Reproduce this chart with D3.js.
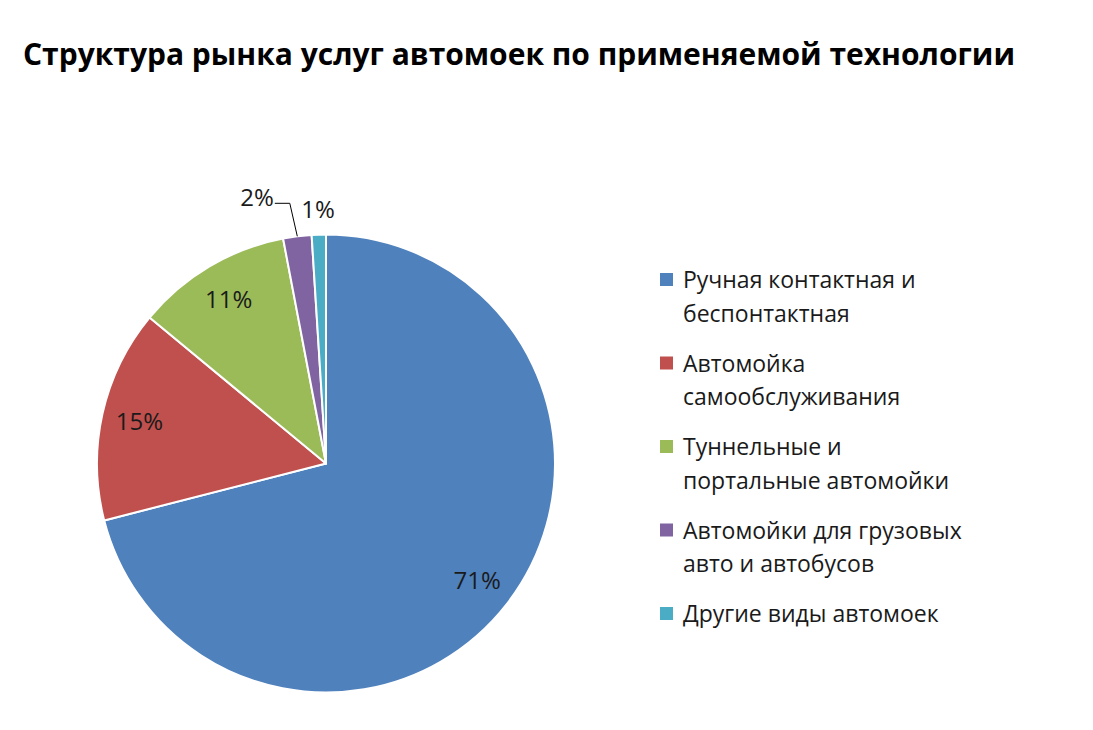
<!DOCTYPE html>
<html>
<head>
<meta charset="utf-8">
<script src="https://cdn.jsdelivr.net/npm/d3@7"></script>
<style>
  html, body { margin: 0; padding: 0; background: #ffffff; }
  svg { display: block; }
</style>
</head>
<body>
<svg id="chart" width="1093" height="730"></svg>
<script>
// ---- data ----
const title = "Структура рынка услуг автомоек по применяемой технологии";
const categories = [
  ["Ручная контактная и", "беспонтактная"],
  ["Автомойка", "самообслуживания"],
  ["Туннельные и", "портальные автомойки"],
  ["Автомойки для грузовых", "авто и автобусов"],
  ["Другие виды автомоек"]
];
const values = [71, 15, 11, 2, 1];
const valueLabels = ["71%", "15%", "11%", "2%", "1%"];
const colors = ["#4F81BD", "#C0504D", "#9BBB59", "#8064A2", "#4BACC6"];

// ---- layout ----
const svg = d3.select("#chart");
const cx = 326, cy = 463.5, R = 229;
const font = "'Open Sans', 'DejaVu Sans', sans-serif";

svg.append("text")
  .attr("x", 23).attr("y", 65)
  .attr("font-family", font)
  .attr("font-weight", 700)
  .attr("font-size", 31)
  .attr("textLength", 992)
  .attr("lengthAdjust", "spacingAndGlyphs")
  .attr("fill", "#000")
  .text(title);

const pie = d3.pie().sort(null).value(d => d);
const arcs = pie(values);
const arc = d3.arc().innerRadius(0).outerRadius(R);
const labelArc = d3.arc().innerRadius(R * 0.835).outerRadius(R * 0.835);

const g = svg.append("g").attr("transform", `translate(${cx},${cy})`);

g.selectAll("path.slice")
  .data(arcs)
  .enter().append("path")
  .attr("class", "slice")
  .attr("d", arc)
  .attr("fill", (d, i) => colors[i])
  .attr("stroke", "#ffffff")
  .attr("stroke-width", 2)
  .attr("stroke-linejoin", "round");

// inside labels for the big slices
const inside = arcs.filter(d => d.data >= 5);
g.selectAll("text.inlab")
  .data(inside)
  .enter().append("text")
  .attr("class", "inlab")
  .attr("transform", d => { const c = labelArc.centroid(d); return `translate(${c[0]},${c[1]})`; })
  .attr("text-anchor", "middle")
  .attr("dy", "0.36em")
  .attr("font-family", font)
  .attr("font-size", 24)
  .attr("fill", "#1a1a1a")
  .text(d => valueLabels[d.index]);

// outside labels for the small slices
const outerPt = d => {
  const a = (d.startAngle + d.endAngle) / 2;
  return [R * Math.sin(a), -R * Math.cos(a)];
};
// 2% with leader line
const d2 = arcs[3];
const p2 = outerPt(d2);
const elbow = [p2[0] - 7.5, p2[1] - 33];
const lead = [elbow[0] - 15, elbow[1]];
g.append("path")
  .attr("d", d3.line()([p2, elbow, lead]))
  .attr("fill", "none")
  .attr("stroke", "#000")
  .attr("stroke-width", 1);
g.append("text")
  .attr("x", lead[0] - 1).attr("y", lead[1])
  .attr("text-anchor", "end")
  .attr("dy", "0.1em")
  .attr("font-family", font)
  .attr("font-size", 24)
  .attr("fill", "#1a1a1a")
  .text(valueLabels[3]);
// 1%
const d1 = arcs[4];
const a1 = (d1.startAngle + d1.endAngle) / 2;
const r1 = R + 25;
g.append("text")
  .attr("x", r1 * Math.sin(a1)).attr("y", -r1 * Math.cos(a1))
  .attr("text-anchor", "middle")
  .attr("dy", "0.36em")
  .attr("font-family", font)
  .attr("font-size", 24)
  .attr("fill", "#1a1a1a")
  .text(valueLabels[4]);

// ---- legend ----
const legX = 660, legY0 = 288, legStep = 83.5, lineH = 33.5;
const leg = svg.append("g");
categories.forEach((lines, i) => {
  const y = legY0 + i * legStep;
  leg.append("rect")
    .attr("x", legX).attr("y", y - 15)
    .attr("width", 13).attr("height", 13)
    .attr("fill", colors[i]);
  const t = leg.append("text")
    .attr("x", legX + 23).attr("y", y)
    .attr("font-family", font)
    .attr("font-size", 23)
    .attr("fill", "#1a1a1a");
  lines.forEach((ln, j) => {
    t.append("tspan").attr("x", legX + 23).attr("y", y + j * lineH).text(ln);
  });
});
</script>
</body>
</html>
